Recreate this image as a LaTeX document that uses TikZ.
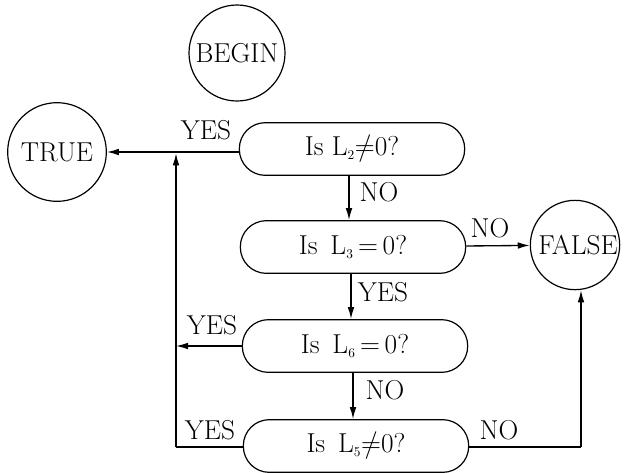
\documentclass[tikz,border=0pt]{standalone}
\usetikzlibrary{arrows.meta}
\newcommand{\sub}[1]{$_{\scriptscriptstyle #1}$}
\newcommand{\nq}{{\ooalign{$=$\cr\hidewidth$/$\hidewidth\cr}}}
\begin{document}
\begin{tikzpicture}[x=0.75pt,y=-0.75pt,
  every node/.style={font=\fontsize{20.5}{24}\selectfont},
  term/.style={draw,circle,line width=0.9pt,inner sep=0pt},
  ttext/.style={inner sep=0pt},
  test/.style={draw,rectangle,rounded corners=19.5pt,line width=0.9pt,minimum width=169pt,minimum height=39.5pt,inner sep=0pt},
  flow/.style={line width=1pt,-{Latex[length=9pt,width=5pt]}},
  plain/.style={line width=1pt},
  lbl/.style={inner sep=1pt}]
\useasboundingbox (0,0) rectangle (624,472);
\node[term,minimum size=72pt] (begin) at (237,53) {};
\node[ttext] (begintxt) at (begin) {BEGIN};
\node[term,minimum size=74pt] (true) at (57,152) {};
\node[ttext] (truetxt) at (true) {TRUE};
\node[term,minimum size=67pt] (false) at (575,245) {};
\node[ttext] (falsetxt) at (578,245) {FALSE};
\node[test] (l2) at (352,149) {Is L\sub{2}\nq 0?};
\node[test] (l3) at (353,247) {Is\, L\sub{3}$\,{=}\,$0?};
\node[test] (l6) at (355,346) {Is\, L\sub{6}$\,{=}\,$0?};
\node[test] (l5) at (356,446) {Is\, L\sub{5}\nq 0?};
\coordinate (jt) at (176,152);
\coordinate (jl) at (176,447);
\coordinate (jr) at (581,447);
\coordinate (a2) at (349,0);
\coordinate (a3) at (351,0);
\coordinate (a6) at (353,0);
% L2
\draw[flow] (l2.west |- jt) -- (true.east |- jt);
\node[lbl] (y2) at (206,130) {YES};
\draw[flow] (l2.south -| a2) -- (l3.north -| a2);
\node[lbl] (n2) at (379,192) {NO};
% L3
\draw[flow] (l3) -- (false);
\node[lbl] (n3) at (490,228) {NO};
\draw[flow] (l3.south -| a3) -- (l6.north -| a3);
\node[lbl] (y3) at (383,292) {YES};
% L6
\draw[flow] (l6) -- (l6 -| jl);
\node[lbl] (y6) at (212,325) {YES};
\draw[flow] (l6.south -| a6) -- (l5.north -| a6);
\node[lbl] (n6) at (385,390) {NO};
% L5
\draw[plain] (l5.west |- jl) -- (jl);
\draw[flow] (jl) -- ([yshift=-1]jt);
\node[lbl] (y5) at (210,430) {YES};
\draw[plain] (l5.east |- jr) -- (jr);
\draw[flow] (jr) -- (false.south -| jr);
\node[lbl] (n5) at (499,430) {NO};
\end{tikzpicture}
\end{document}
